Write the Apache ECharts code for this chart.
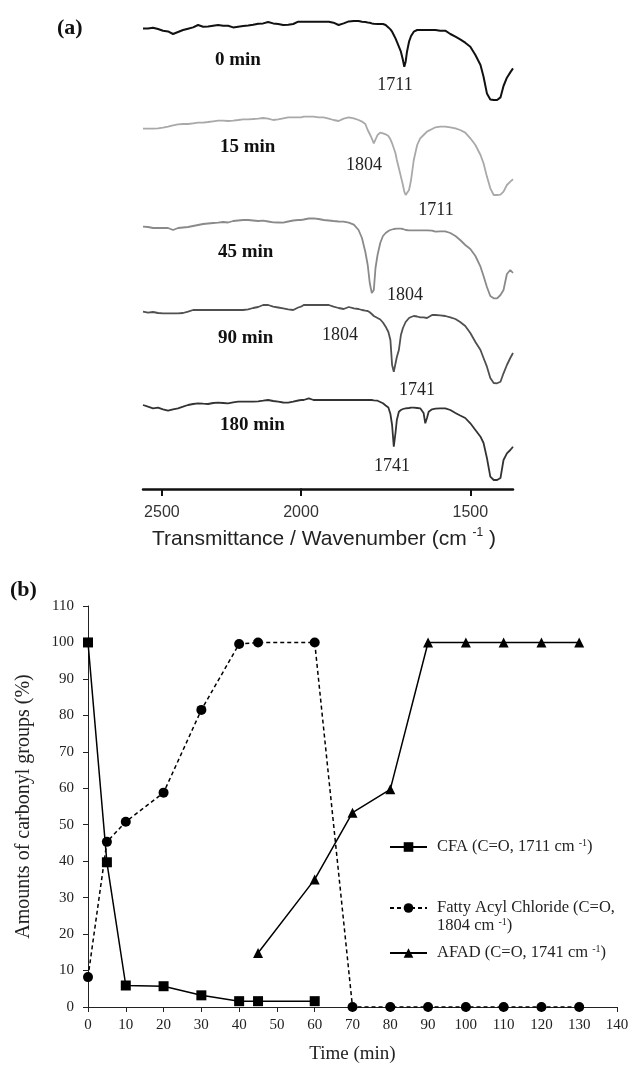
<!DOCTYPE html>
<html>
<head>
<meta charset="utf-8">
<title>FTIR carbonyl groups</title>
<script src="https://cdn.jsdelivr.net/npm/echarts@6/dist/echarts.min.js"></script>
<style>
  html, body { margin: 0; padding: 0; background: #fff; }
  #chart { width: 632px; height: 1065px; }
</style>
</head>
<body>
<div id="chart"></div>
<script>
// ---- panel (a): FTIR spectra, wavenumber (cm-1) ----
var wavenumber = [
  2568, 2550, 2532, 2514, 2496, 2478, 2460, 2442, 2424, 2406, 2388, 2370, 2352, 2334, 2316, 2298,
  2280, 2262, 2244, 2226, 2208, 2190, 2172, 2154, 2136, 2118, 2100, 2082, 2064, 2046, 2028, 2010,
  2000,
  1992, 1977, 1963, 1948, 1933, 1918, 1904, 1889, 1874, 1859, 1844, 1830, 1820, 1810, 1803, 1797,
  1791, 1785, 1780, 1774, 1766, 1758, 1750, 1742, 1736, 1731, 1726, 1721, 1717, 1711, 1705, 1699,
  1695, 1691, 1687, 1681, 1675, 1667, 1657, 1648, 1638, 1633, 1628, 1623, 1613, 1603, 1589, 1574,
  1559, 1544, 1530, 1515, 1500, 1485, 1470, 1461, 1451, 1441, 1431, 1421, 1411, 1402, 1392, 1382, 1374
];

// absorbance dips below each trace's upper baseline
var spec0 = [
  6.7, 6.7, 6, 7.3, 9, 9.7, 12.3, 10.3, 8.3, 7, 5.7, 3.3, 5, 4.7, 4, 3.3, 4, 4, 5.7, 5, 4.3, 3.7, 3, 2, 1.7, 0.3, 1.7, 2.3, 3.3, 3, 2.3, 0,
  0,
  0, 0, 0, 0, 0, 0, 1, 3.3, 1.7, -0.3, -0.7, -0.7, 0, 0.3, 0.7, 1, 1.7, 2, 2.3, 2.3,
  2.3, 2.3, 3.3, 5.7, 7.7, 10, 13.3, 16.7, 20, 25, 30, 38.3, 45, 40, 30, 20, 14.3, 10, 8.3, 8.3,
  8.3, 8.3, 8.3, 8.3, 8.3, 8.3, 9, 9, 12.3, 15, 17.7, 21, 25, 33.3, 43.3, 55, 71.7, 77.7, 78.3, 78.3,
  75.7, 64.3, 56, 50.7, 46.7
];
var spec15 = [
  11.3, 11.3, 11.3, 11, 10.3, 9.3, 8, 7, 6.7, 6.7, 6, 5.3, 5.3, 4.7, 4, 3.3, 3.3, 3.7, 3.3, 2.7, 2, 2, 1.7, 1.3, 0.7, 1.3, 2.7, 2, 1, 0, 0, 0,
  0,
  -0.7, -0.7, -0.7, 0, 0, 1.3, 2.7, 3.7, 1.3, 0, 1, 2.7, 4.3, 6.7, 12.7, 16.7, 21, 26, 24.3, 17.7,
  15.3, 16, 17, 18.7, 22, 26, 31, 36, 42.7, 51, 59.3, 67.7, 74.3, 77.7, 78.7, 72.7, 62.7, 42.7, 27.7, 21,
  17.7, 16, 14.3, 13.3, 11.7, 10, 9.3, 9.3, 10, 11, 12.7, 15.3, 21, 27.7, 37.7, 46, 59.3, 71, 77.7, 77.7,
  77.3, 74.3, 67.7, 64.3, 62
];
var spec45 = [
  6.7, 7, 8, 8, 8, 8, 10, 8, 7.5, 7, 6, 5, 4, 3.5, 3, 2.7, 2, 2.5, 1, 0.5, 0, 0, 0.5, 1, 0.7, 1.5, 2.3, 2.5, 2.7, 1.5, 0.5, 0,
  0,
  -0.5, -1.5, -1.7, -1, 0, 0.5, 1, 1.5, 1.7, 2.7, 4.7, 10, 18, 32, 45, 63, 73, 70, 48, 35,
  23, 16, 13, 11, 10, 9.5, 9, 9, 8.7, 8.7, 8.7, 9, 9.5, 10, 10, 10.3, 10.3, 10.3, 10.3, 10.3,
  10.3, 10.3, 10.3, 10.3, 10.7, 11.7, 11.3, 11.3, 13, 16, 20, 25, 29, 36, 46.7, 56, 67, 76, 78.3, 78.3,
  75, 70, 54, 50, 53
];
var spec90 = [
  6.7, 7.7, 7, 8, 8.3, 8.3, 8.3, 8.3, 8, 6.7, 5, 5, 5, 5, 5, 5, 5, 5, 5, 5, 5, 4.3, 3, 2, 0, 0, 1.7, 2.5, 3.3, 4.3, 5, 2.5,
  1.7,
  0, 0, 0, 0, 0, 0, 1.7, 3, 4, 2, 3.3, 4, 5, 5.7, 6, 7.3, 9, 11, 12.3, 13,
  14.5, 17.5, 21.7, 27, 35, 60, 66.7, 66.7, 52, 45, 30, 23, 20, 17, 15, 13, 12, 11, 11.5, 12.3,
  12.3, 12.3, 13, 13.3, 10, 10, 10.3, 11, 12.3, 14, 17, 21, 28, 37, 45, 53, 61.7, 73, 78, 78.3,
  76.7, 68.3, 60, 53, 48
];
var spec180 = [
  5, 6.7, 8.3, 7.7, 9.3, 10.7, 9.3, 8.3, 6.7, 5, 4, 3.3, 3.7, 4, 3, 2.7, 3, 3.3, 2.3, 1.7, 1.7, 1.7, 1.7, 1.3, 0.7, 0, 1, 1.7, 2.5, 2.7, 1.7, 0.5,
  0,
  0, -1.7, 0, 0, 0, 0, 0, 0, 0, 0, 0, 0, 0, 0, 0, 0, 0, 0.3, 0.7, 0.7,
  2, 3.3, 5.5, 7.5, 14, 25, 46.7, 33, 20, 11.7, 10, 9, 8.7, 8.3, 8.3, 8, 7.7, 7.7, 8, 8.3,
  13, 23.3, 18, 11.7, 9.3, 8.7, 8.3, 8.3, 10, 13, 15.5, 18, 23.3, 30, 36.7, 43, 58, 76.7, 80, 80,
  78, 60, 53.3, 50, 46.7
];
var specNames = ['0 min', '15 min', '45 min', '90 min', '180 min'];
var specData = [spec0, spec15, spec45, spec90, spec180];
var specShift = [467.3, 371.7, 269, 184, 89];   // vertical stacking of the traces
var specColors = ['#111111', '#a9a9a9', '#8a8a8a', '#505050', '#333333'];

// ---- panel (b): carbonyl groups vs time ----
var cfaTime = [0, 5, 10, 20, 30, 40, 45, 60];
var cfaVal = [100, 39.7, 5.9, 5.7, 3.2, 1.6, 1.6, 1.6];
var chlTime = [0, 5, 10, 20, 30, 40, 45, 60, 70, 80, 90, 100, 110, 120, 130];
var chlVal = [8.2, 45.3, 50.8, 58.8, 81.5, 99.6, 100, 100, 0, 0, 0, 0, 0, 0, 0];
var afadTime = [45, 60, 70, 80, 90, 100, 110, 120, 130];
var afadVal = [14.8, 35, 53.3, 59.7, 100, 100, 100, 100, 100];

var serif = '"Liberation Serif", "Times New Roman", serif';
var sans = '"Liberation Sans", Arial, sans-serif';

function pairs(xs, ys) {
    var out = [];
    for (var i = 0; i < xs.length; i++) out.push([xs[i], ys[i]]);
    return out;
}

var series = [];
var split = wavenumber.indexOf(2000);
for (var s = 0; s < specData.length; s++) {
    var left = [], right = [];
    for (var i = 0; i < wavenumber.length; i++) {
        var v = specShift[s] - specData[s][i];
        if (i <= split) left.push([wavenumber[i], v]);
        if (i >= split) right.push([wavenumber[i], v]);
    }
    var ls = { color: specColors[s], width: s === 0 ? 2 : 1.8 };
    series.push({ name: specNames[s], type: 'line', xAxisIndex: 0, yAxisIndex: 0, data: left,
        symbol: 'none', lineStyle: ls, silent: true });
    series.push({ name: specNames[s], type: 'line', xAxisIndex: 1, yAxisIndex: 1, data: right,
        symbol: 'none', lineStyle: ls, silent: true });
}

series.push({
    name: 'CFA', type: 'line', xAxisIndex: 2, yAxisIndex: 2, data: pairs(cfaTime, cfaVal),
    symbol: 'rect', symbolSize: 10, itemStyle: { color: '#000' },
    lineStyle: { color: '#000', width: 1.5 }
});
series.push({
    name: 'Fatty', type: 'line', xAxisIndex: 2, yAxisIndex: 2, data: pairs(chlTime, chlVal),
    symbol: 'circle', symbolSize: 10, itemStyle: { color: '#000' },
    lineStyle: { color: '#000', width: 1.5, type: [4, 3] }
});
series.push({
    name: 'AFAD', type: 'line', xAxisIndex: 2, yAxisIndex: 2, data: pairs(afadTime, afadVal),
    symbol: 'triangle', symbolSize: 10, itemStyle: { color: '#000' },
    lineStyle: { color: '#000', width: 1.5 }
});

var legendText = {
    'CFA': '{t|CFA (C=O, 1711 cm }{s|-1}{t|)}',
    'Fatty': '{t|Fatty Acyl Chloride (C=O,}\n{t|1804 cm }{s|-1}{t|)}',
    'AFAD': '{t|AFAD (C=O, 1741 cm }{s|-1}{t|)}'
};
var legendRich = {
    t: { fontFamily: serif, fontSize: 16.5, color: '#222', lineHeight: 18 },
    s: { fontFamily: serif, fontSize: 10, color: '#222', lineHeight: 10, verticalAlign: 'top' }
};
function legendAt(name, top, pad) {
    return {
        data: [name], left: 389, top: top, orient: 'vertical', padding: 0,
        itemWidth: 37, itemHeight: 12, selectedMode: false,
        formatter: function (n) { return legendText[n]; },
        textStyle: { padding: pad, lineHeight: 18, rich: legendRich }
    };
}

var irAxisLine = { show: true, lineStyle: { color: '#111', width: 2.5 } };
var irTick = { show: true, length: 7, lineStyle: { color: '#111', width: 2 } };
var irLabel = { fontFamily: sans, fontSize: 16, color: '#333', margin: 16,
    formatter: function (v) { return String(v); } };

var bAxisLabel = { fontFamily: serif, fontSize: 15, color: '#222' };

var chart = echarts.init(document.getElementById('chart'));
chart.setOption({
    animation: false,
    backgroundColor: '#fff',
    grid: [
        { left: 143, width: 158, top: 19, height: 470 },
        { left: 301, width: 212, top: 19, height: 470 },
        { left: 88, right: 15, top: 606, bottom: 58 }
    ],
    xAxis: [
        { gridIndex: 0, type: 'value', min: 2000, max: 2568, inverse: true, splitLine: { show: false },
          axisLine: irAxisLine, axisTick: Object.assign({ customValues: [2500, 2000] }, irTick),
          axisLabel: Object.assign({ customValues: [2500, 2000] }, irLabel) },
        { gridIndex: 1, type: 'value', min: 1374, max: 2000, inverse: true, splitLine: { show: false },
          axisLine: irAxisLine, axisTick: Object.assign({ customValues: [1500] }, irTick),
          axisLabel: Object.assign({ customValues: [1500] }, irLabel) },
        { gridIndex: 2, type: 'value', min: 0, max: 140, interval: 10, splitLine: { show: false },
          axisLine: { lineStyle: { color: '#222', width: 1 } },
          axisTick: { length: 5, lineStyle: { color: '#222' } },
          axisLabel: Object.assign({ margin: 11 }, bAxisLabel),
          name: 'Time (min)', nameLocation: 'middle', nameGap: 38,
          nameTextStyle: { fontFamily: serif, fontSize: 19, color: '#222' } }
    ],
    yAxis: [
        { gridIndex: 0, type: 'value', min: 0, max: 470, show: false },
        { gridIndex: 1, type: 'value', min: 0, max: 470, show: false },
        { gridIndex: 2, type: 'value', min: 0, max: 110, interval: 10, splitLine: { show: false },
          axisLine: { show: true, lineStyle: { color: '#222', width: 1 } },
          axisTick: { show: true, length: 5, lineStyle: { color: '#222' } },
          axisLabel: Object.assign({ margin: 14 }, bAxisLabel),
          name: 'Amounts of carbonyl groups (%)', nameLocation: 'middle', nameGap: 54,
          nameTextStyle: { fontFamily: serif, fontSize: 20, color: '#222' } }
    ],
    legend: [
        legendAt('CFA', 838, [0, 0, 0, 5]),
        legendAt('Fatty', 881, [18, 0, 0, 5]),
        legendAt('AFAD', 944, [0, 0, 0, 5])
    ],
    graphic: [
        { type: 'text', x: 57, y: 28, style: { text: '(a)', fontFamily: serif, fontWeight: 'bold', fontSize: 22, fill: '#111', verticalAlign: 'middle' } },
        { type: 'text', x: 10, y: 590, style: { text: '(b)', fontFamily: serif, fontWeight: 'bold', fontSize: 22, fill: '#111', verticalAlign: 'middle' } },
        { type: 'text', x: 215, y: 60, style: { text: '0 min', fontFamily: serif, fontWeight: 'bold', fontSize: 19, fill: '#111', verticalAlign: 'middle' } },
        { type: 'text', x: 220, y: 147, style: { text: '15 min', fontFamily: serif, fontWeight: 'bold', fontSize: 19, fill: '#111', verticalAlign: 'middle' } },
        { type: 'text', x: 218, y: 252, style: { text: '45 min', fontFamily: serif, fontWeight: 'bold', fontSize: 19, fill: '#111', verticalAlign: 'middle' } },
        { type: 'text', x: 218, y: 338, style: { text: '90 min', fontFamily: serif, fontWeight: 'bold', fontSize: 19, fill: '#111', verticalAlign: 'middle' } },
        { type: 'text', x: 220, y: 425, style: { text: '180 min', fontFamily: serif, fontWeight: 'bold', fontSize: 19, fill: '#111', verticalAlign: 'middle' } },
        { type: 'text', x: 395, y: 85, style: { text: '1711', fontFamily: serif, fontSize: 18, fill: '#222', align: 'center', verticalAlign: 'middle' } },
        { type: 'text', x: 364, y: 165, style: { text: '1804', fontFamily: serif, fontSize: 18, fill: '#222', align: 'center', verticalAlign: 'middle' } },
        { type: 'text', x: 436, y: 210, style: { text: '1711', fontFamily: serif, fontSize: 18, fill: '#222', align: 'center', verticalAlign: 'middle' } },
        { type: 'text', x: 405, y: 295, style: { text: '1804', fontFamily: serif, fontSize: 18, fill: '#222', align: 'center', verticalAlign: 'middle' } },
        { type: 'text', x: 340, y: 335, style: { text: '1804', fontFamily: serif, fontSize: 18, fill: '#222', align: 'center', verticalAlign: 'middle' } },
        { type: 'text', x: 417, y: 390, style: { text: '1741', fontFamily: serif, fontSize: 18, fill: '#222', align: 'center', verticalAlign: 'middle' } },
        { type: 'text', x: 392, y: 466, style: { text: '1741', fontFamily: serif, fontSize: 18, fill: '#222', align: 'center', verticalAlign: 'middle' } },
        { type: 'text', x: 324, y: 539, style: {
            text: '{a|Transmittance / Wavenumber (cm }{s|-1}{a| )}',
            align: 'center', verticalAlign: 'middle',
            rich: {
                a: { fontFamily: sans, fontSize: 21, fill: '#222', color: '#222', lineHeight: 24 },
                s: { fontFamily: sans, fontSize: 12, fill: '#222', color: '#222', lineHeight: 14, verticalAlign: 'top' }
            }
        } }
    ],
    series: series
});
</script>
</body>
</html>
